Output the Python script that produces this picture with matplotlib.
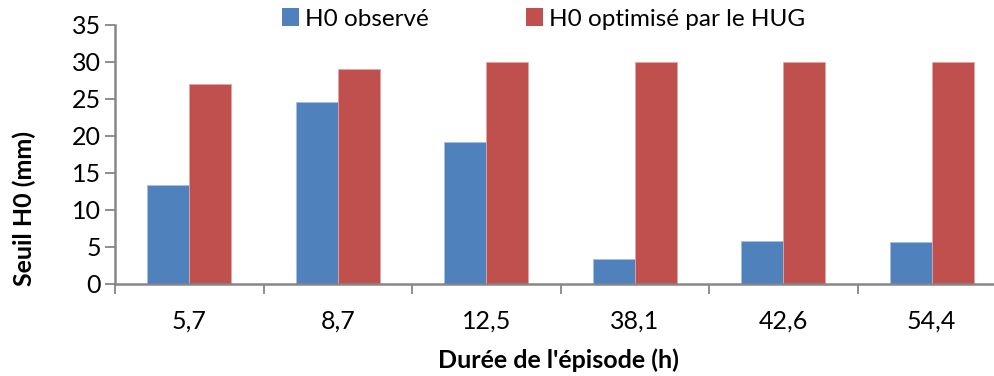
import matplotlib
matplotlib.use("Agg")
import matplotlib.pyplot as plt
import numpy as np
from matplotlib.patches import Patch

plt.rcParams['font.family'] = ['Lato', 'DejaVu Sans']

categories = ["5,7", "8,7", "12,5", "38,1", "42,6", "54,4"]
h0_observe = [13.4, 24.6, 19.2, 3.3, 5.7, 5.6]
h0_optimise = [27.0, 29.0, 30.0, 30.0, 30.0, 30.0]
series_names = ["H0 observé", "H0 optimisé par le HUG"]
y_ticks = [0, 5, 10, 15, 20, 25, 30, 35]

blue = "#4F81BD"
red = "#C0504D"
axis_grey = "#868686"

W, H = 994, 376
fig = plt.figure(figsize=(W / 100, H / 100), dpi=100)
left, right = 115 / W, 1006 / W
bottom, top = 1 - 283.5 / H, 1 - 25 / H
ax = fig.add_axes([left, bottom, right - left, top - bottom])

x = np.arange(len(categories))
bw = 0.283
ax.bar(x - bw / 2, h0_observe, bw, color=blue, edgecolor="#A7BFDE", linewidth=0.6, zorder=2)
ax.bar(x + bw / 2, h0_optimise, bw, color=red, edgecolor="#E0A6A5", linewidth=0.6, zorder=2)

ax.set_xlim(-0.5, len(categories) - 0.5)
ax.set_ylim(0, 35)
ax.set_yticks(y_ticks)
ax.set_yticklabels([str(t) for t in y_ticks], fontsize=18)
ax.set_xticks(x)
ax.set_xticklabels(categories, fontsize=18)
ax.tick_params(axis='x', length=0, pad=19)
ax.set_xticks(np.arange(len(categories) + 1) - 0.5, minor=True)
ax.tick_params(axis='x', which='minor', length=7, width=1.3, color=axis_grey, direction='out')
ax.tick_params(axis='y', length=7, width=1.3, color=axis_grey, direction='out', pad=3)

for s in ['top', 'right']:
    ax.spines[s].set_visible(False)
for s in ['left', 'bottom']:
    ax.spines[s].set_color(axis_grey)
    ax.spines[s].set_linewidth(1.8)

fig.text(24 / W, 1 - 208 / H, "Seuil H0 (mm)", rotation=90, fontsize=18,
         fontweight='bold', ha='center', va='center')
fig.text(558 / W, 1 - 360 / H, "Durée de l'épisode (h)", fontsize=18,
         fontweight='bold', ha='center', va='center')

# one legend entry per series, each anchored at its own square
colors = [blue, red]
legend_x = [282, 526]
for name, col, lx in zip(series_names, colors, legend_x):
    fig.legend([Patch(facecolor=col, edgecolor='none')], [name], loc='center left',
               bbox_to_anchor=(lx / W, 1 - 19 / H), frameon=False, fontsize=17.5,
               handlelength=0.7, handleheight=0.7, handletextpad=0.25,
               borderaxespad=0, borderpad=0)

fig.savefig("out.png", dpi=100)
